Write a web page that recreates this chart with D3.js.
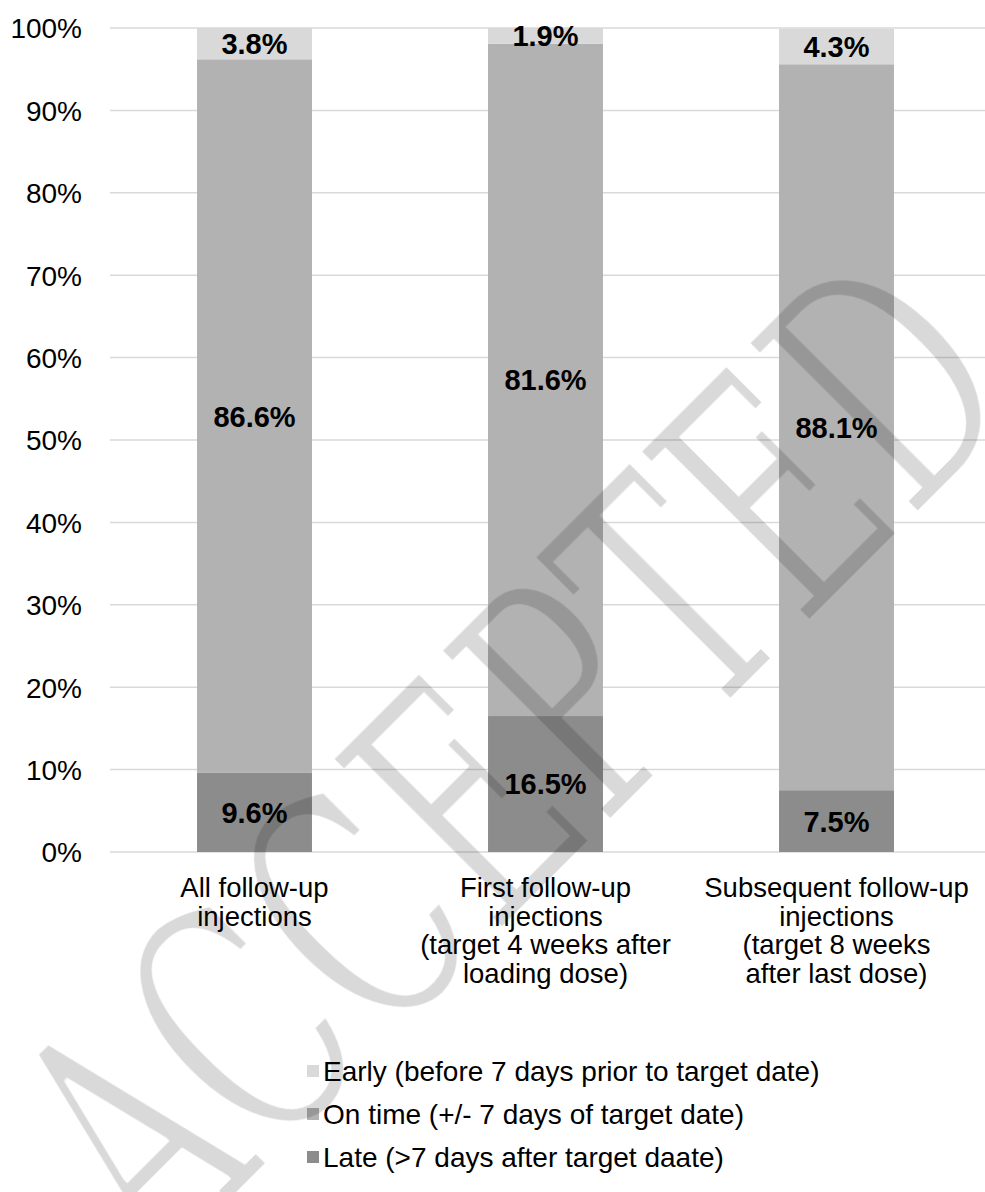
<!DOCTYPE html>
<html><head><meta charset="utf-8">
<script src="https://cdn.jsdelivr.net/npm/d3@7"></script>
<style>body{margin:0;background:#fff}</style>
</head><body><svg id="c" width="985" height="1192"></svg>
<script>
const categories = [
  ["All follow-up", "injections"],
  ["First follow-up", "injections", "(target 4 weeks after", "loading dose)"],
  ["Subsequent follow-up", "injections", "(target 8 weeks", "after last dose)"]
];
const seriesNames = ["Late (>7 days after target daate)", "On time (+/- 7 days of target date)", "Early (before 7 days prior to target date)"];
const late = [9.6, 16.5, 7.5];
const onTime = [86.6, 81.6, 88.1];
const early = [3.8, 1.9, 4.3];
const yTicks = [0, 10, 20, 30, 40, 50, 60, 70, 80, 90, 100];
const colors = ["#8c8c8c", "#b2b2b2", "#d9d9d9"];

const svg = d3.select("#c");
const W = 985, H = 1192;
const x0 = 109, x1 = 982, yTop = 28, yBot = 852;
const idx = [0,1,2];
const x = d3.scaleBand().domain(idx).range([x0, x1]).paddingInner(0.605).paddingOuter(0.3025);
const y = d3.scaleLinear().domain([0, 100]).range([yBot, yTop]);
const FONT = "Liberation Sans, Arial, sans-serif";

// gridlines
svg.append("g").selectAll("line").data(yTicks).join("line")
  .attr("x1", 110).attr("x2", W).attr("y1", d => y(d)).attr("y2", d => y(d))
  .attr("stroke", "#d9d9d9").attr("stroke-width", 1.5);

// y labels
const yAxis = d3.axisLeft(y).tickValues(yTicks).tickFormat(d => d + "%").tickSize(0).tickPadding(0);
const ga = svg.append("g").attr("transform", "translate(82,0)").call(yAxis);
ga.select(".domain").remove();
ga.selectAll("text").attr("font-family", FONT).attr("font-size", 28).attr("fill", "#000").attr("dy", "0.35em");

// stacked data
const rows = idx.map(i => ({i, s0: late[i], s1: onTime[i], s2: early[i]}));
const stack = d3.stack().keys(["s0", "s1", "s2"])(rows);
const g = svg.append("g");
stack.forEach((layer, k) => {
  g.append("g").selectAll("rect").data(layer).join("rect")
    .attr("x", d => x(d.data.i)).attr("width", x.bandwidth())
    .attr("y", d => y(d[1])).attr("height", d => y(d[0]) - y(d[1]))
    .attr("fill", colors[k]);
});
stack.forEach((layer, k) => {
  g.append("g").selectAll("text").data(layer).join("text")
    .attr("x", d => x(d.data.i) + x.bandwidth() / 2)
    .attr("y", d => y((d[0] + d[1]) / 2))
    .attr("dy", "0.36em").attr("text-anchor", "middle")
    .attr("font-family", FONT).attr("font-weight", "bold").attr("font-size", 29)
    .attr("fill", "#000")
    .text(d => (d[1] - d[0]).toFixed(1) + "%");
});

// x labels
const xl = svg.append("g");
categories.forEach((lines, i) => {
  const t = xl.append("text").attr("text-anchor", "middle")
    .attr("font-family", FONT).attr("font-size", 27.5).attr("fill", "#000");
  lines.forEach((ln, j) => {
    t.append("tspan").attr("x", x(i) + x.bandwidth() / 2).attr("y", 897 + j * 28.6).text(ln);
  });
});

// legend
const legendOrder = [2, 1, 0];
const lg = svg.append("g");
legendOrder.forEach((k, j) => {
  const cy = 1071 + j * 43;
  lg.append("rect").attr("x", 307).attr("y", cy - 6).attr("width", 12).attr("height", 12).attr("fill", colors[k]);
  lg.append("text").attr("x", 323).attr("y", cy).attr("dy", "0.36em")
    .attr("font-family", FONT).attr("font-size", 28).attr("fill", "#000")
    .text(seriesNames[k]);
});

// watermark
const defs = svg.append("defs");
defs.append("filter").attr("id", "thin").attr("x", "-10%").attr("y", "-50%").attr("width", "120%").attr("height", "200%")
  .append("feMorphology").attr("operator", "erode").attr("radius", "2");
svg.append("text").text("ACCEPTED")
  .attr("transform", "translate(159,1272) rotate(-45)")
  .attr("font-family", "DejaVu Serif, serif")
  .attr("font-size", 330).attr("textLength", 1230).attr("lengthAdjust", "spacingAndGlyphs")
  .attr("filter", "url(#thin)")
  .attr("fill", "#000").attr("fill-opacity", 0.15);
</script></body></html>
